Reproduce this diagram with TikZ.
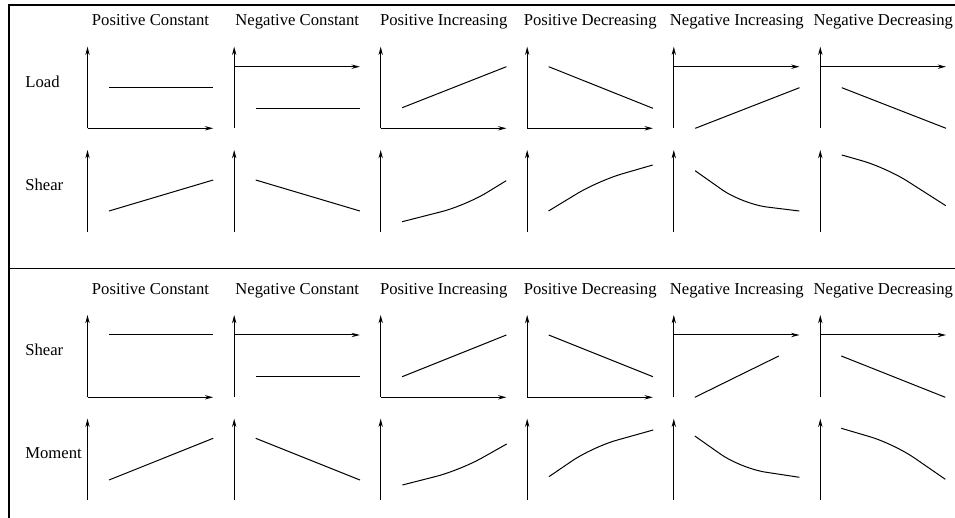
\documentclass[tikz,border=0pt]{standalone}
\usepackage{fontspec}
\setmainfont{Liberation Serif}
\usetikzlibrary{arrows.meta}
\tikzset{
  ax/.style={-{Stealth[length=5pt,width=2.6pt]}, line width=0.6pt},
  crv/.style={line width=0.6pt, rounded corners=15pt},
  frm/.style={line width=0.7pt},
  hdr/.style={anchor=base, font=\fontsize{10}{12}\selectfont, inner sep=0pt},
  rowlab/.style={anchor=base west, font=\fontsize{10}{12}\selectfont, inner sep=0pt}
}
\begin{document}
\begin{tikzpicture}[x=0.6pt,y=-0.6pt]
\useasboundingbox (0,0) rectangle (955,518);
% frame
\draw[frm] (955,5) -- (9,5) -- (9,518);
\draw[frm] (9,268.3) -- (955,268.3);
% row labels
\node[rowlab] (lload) at (25,87.3) {Load};
\node[rowlab] (lshear1) at (25,191) {Shear};
\node[rowlab] (lshear2) at (25,356) {Shear};
\node[rowlab] (lmoment) at (25,459) {Moment};
% headers
\foreach \X/\t [count=\i] in {87.5/Positive Constant,234.2/Negative Constant,380.7/Positive Increasing,527.2/Positive Decreasing,673.8/Negative Increasing,820.3/Negative Decreasing}{
  \node[hdr] (ht\i) at (\X+63,26) {\t};
  \node[hdr] (hb\i) at (\X+63,294.3) {\t};
}
% ---------- column 1: Positive Constant
\begin{scope}[shift={(87.5,0)}]
  \draw[ax] (0,128.3) -- (0,46.7);
  \draw[ax] (0,128.3) -- (125.7,128.3);
  \draw[crv] (21.5,87.7) -- (125.7,87.7);
  \draw[ax] (0,231.7) -- (0,150);
  \draw[crv] (21.5,211) -- (125.7,180);
  \draw[ax] (0,397.3) -- (0,315);
  \draw[ax] (0,397.3) -- (125.7,397.3);
  \draw[crv] (21.5,335) -- (125.7,335);
  \draw[ax] (0,500) -- (0,418.7);
  \draw[crv] (21.5,480) -- (125.7,438.3);
\end{scope}
% ---------- column 2: Negative Constant
\begin{scope}[shift={(234.2,0)}]
  \draw[ax] (0,128.3) -- (0,46.7);
  \draw[ax] (0,66.7) -- (125.7,66.7);
  \draw[crv] (21.5,108.3) -- (125.7,108.3);
  \draw[ax] (0,231.7) -- (0,150);
  \draw[crv] (21.5,180) -- (125.7,211);
  \draw[ax] (0,397.3) -- (0,315);
  \draw[ax] (0,335) -- (125.7,335);
  \draw[crv] (21.5,376.7) -- (125.7,376.7);
  \draw[ax] (0,500) -- (0,418.7);
  \draw[crv] (21.5,438.3) -- (125.7,480);
\end{scope}
% ---------- column 3: Positive Increasing
\begin{scope}[shift={(380.7,0)}]
  \draw[ax] (0,128.3) -- (0,46.7);
  \draw[ax] (0,128.3) -- (125.7,128.3);
  \draw[crv] (21.5,107.7) -- (125.7,66.7);
  \draw[ax] (0,231.7) -- (0,150);
  \draw[crv] (21.5,221.7) -- (85,205.5) -- (125.5,180.7);
  \draw[ax] (0,397.3) -- (0,315);
  \draw[ax] (0,397.3) -- (125.7,397.3);
  \draw[crv] (21.5,376.7) -- (125.7,335);
  \draw[ax] (0,500) -- (0,418.7);
  \draw[crv] (21.7,485) -- (79.3,470.3) -- (126,444);
\end{scope}
% ---------- column 4: Positive Decreasing
\begin{scope}[shift={(527.2,0)}]
  \draw[ax] (0,128.3) -- (0,46.7);
  \draw[ax] (0,128.3) -- (125.7,128.3);
  \draw[crv] (21.5,66.7) -- (125.7,108.3);
  \draw[ax] (0,231.7) -- (0,150);
  \draw[crv] (21.3,211) -- (71,180.8) -- (125.5,165);
  \draw[ax] (0,397.3) -- (0,315);
  \draw[ax] (0,397.3) -- (125.7,397.3);
  \draw[crv] (21.5,335) -- (125.7,376.7);
  \draw[ax] (0,500) -- (0,418.7);
  \draw[crv] (21.7,476.7) -- (65.3,447) -- (126,430);
\end{scope}
% ---------- column 5: Negative Increasing
\begin{scope}[shift={(673.8,0)}]
  \draw[ax] (0,128.3) -- (0,46.7);
  \draw[ax] (0,66.7) -- (125.7,66.7);
  \draw[crv] (21.5,128.3) -- (125.7,87.7);
  \draw[ax] (0,231.7) -- (0,150);
  \draw[crv] (21.3,170.7) -- (68.5,204) -- (125.5,211);
  \draw[ax] (0,397.3) -- (0,315);
  \draw[ax] (0,335) -- (125.7,335);
  \draw[crv] (21,397.3) -- (105,356);
  \draw[ax] (0,500) -- (0,418.7);
  \draw[crv] (21,436) -- (67,468.4) -- (125.6,477.3);
\end{scope}
% ---------- column 6: Negative Decreasing
\begin{scope}[shift={(820.3,0)}]
  \draw[ax] (0,128.3) -- (0,46.7);
  \draw[ax] (0,66.7) -- (125.7,66.7);
  \draw[crv] (21.5,87.7) -- (125.7,128.3);
  \draw[ax] (0,231.7) -- (0,150);
  \draw[crv] (21.5,155) -- (66,167.7) -- (125.5,205.7);
  \draw[ax] (0,397.3) -- (0,315);
  \draw[ax] (0,335) -- (125.7,335);
  \draw[crv] (21,356) -- (125,397.3);
  \draw[ax] (0,500) -- (0,418.7);
  \draw[crv] (21,428.3) -- (73.6,443.8) -- (125,479.3);
\end{scope}
\end{tikzpicture}
\end{document}
